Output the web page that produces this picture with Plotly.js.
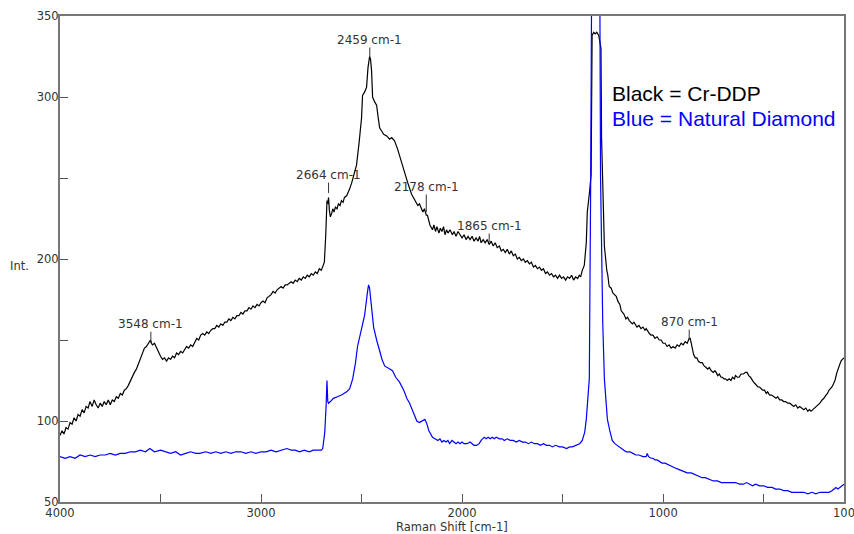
<!DOCTYPE html>
<html>
<head>
<meta charset="utf-8">
<script src="https://cdn.plot.ly/plotly-3.0.1.min.js"></script>
<style>html,body{margin:0;padding:0;background:#fff;}#chart{width:854px;height:534px;}</style>
</head>
<body>
<div id="chart"></div>
<script>
// Black = Cr-DDP : [Raman shift cm-1, intensity]
const blackSpectrum = [
[4000,91],[3990,94],[3980,92],[3970,96],[3960,95],[3950,99],[3940,98],[3930,102],[3920,100],[3910,104],[3900,103],[3890,107],[3880,105],[3870,109],[3860,108],[3851,112],[3840,109],[3830,113],[3820,110],[3810,108],[3800,111],[3790,109],[3780,112],[3770,110],[3760,113],[3750,110],[3740,113],[3730,112],[3720,115],[3710,114],[3700,117],[3690,116],[3680,119],[3670,120],[3660,122],[3650,125],[3640,127],[3630,130],[3620,132],[3610,135],[3600,138],[3590,142],[3580,145],[3570,146],[3560,148],[3550,150],[3545,148],[3540,147],[3530,148],[3520,145],[3510,142],[3500,140],[3490,138],[3480,139],[3470,137],[3460,139],[3450,138],[3440,140],[3430,139],[3420,142],[3410,141],[3400,143],[3390,142],[3380,144],[3370,146],[3360,145],[3350,147],[3340,146],[3330,149],[3320,151],[3310,150],[3300,153],[3290,154],[3280,153],[3270,155],[3260,154],[3250,156],[3240,157],[3230,157],[3220,159],[3210,158],[3200,160],[3190,159],[3180,161],[3170,161],[3160,163],[3150,162],[3140,164],[3130,163],[3120,165],[3110,165],[3100,167],[3090,166],[3080,168],[3070,168],[3060,170],[3050,169],[3040,171],[3030,170],[3020,172],[3010,171],[3000,173],[2990,174],[2980,173],[2970,176],[2960,177],[2950,178],[2940,180],[2930,179],[2920,181],[2910,182],[2900,183],[2890,182],[2880,184],[2870,184],[2860,185],[2850,186],[2840,185],[2830,187],[2820,186],[2810,188],[2800,187],[2790,189],[2780,188],[2770,190],[2760,189],[2750,191],[2740,190],[2730,192],[2720,191],[2710,194],[2700,193],[2690,196],[2685,198],
[2678,215],[2672,236],[2668,234],[2664,238],[2660,230],[2655,226],[2649,228],[2643,231],[2637,229],[2630,232],[2622,231],[2615,234],[2607,233],[2600,236],[2592,235],[2585,238],[2574,239],[2565,241],[2560,243],[2549,247],[2537,252],[2525,258],[2512,272],[2500,287],[2495,301],[2485,303],[2475,306],[2468,318],[2460,325],[2455,323],[2450,316],[2445,300],[2435,297],[2425,295],[2418,288],[2410,281],[2400,279],[2390,277],[2375,276],[2360,274],[2350,275],[2336,273],[2321,268],[2305,261],[2286,254],[2270,247],[2251,240],[2235,236],[2220,233],[2212,234],[2195,229],[2187,231],[2178,227],[2172,227],[2160,221],
[2147,218],[2140,221],[2132,217],[2125,220],[2115,216],[2108,219],[2100,217],[2092,220],[2085,215],[2077,218],[2070,216],[2060,218],[2048,215],[2040,217],[2030,214],[2020,217],[2010,215],[2000,213],[1990,215],[1980,212],[1970,214],[1960,212],[1950,214],[1940,211],[1930,213],[1920,211],[1913,214],[1905,210],[1895,212],[1885,210],[1875,212],[1865,209],[1855,211],[1845,208],[1835,210],[1825,207],[1814,208],[1805,205],[1795,206],[1785,204],[1775,206],[1765,203],[1755,205],[1745,202],[1735,203],[1725,200],[1715,201],[1705,199],[1695,200],[1685,198],[1675,199],[1665,197],[1655,198],[1645,195],[1635,196],[1625,194],[1615,195],[1605,193],[1595,194],[1585,191],[1575,192],[1565,190],[1555,191],[1545,189],[1535,190],[1525,188],[1515,190],[1505,188],[1495,189],[1485,187],[1475,189],[1465,188],[1455,190],[1445,187],[1435,189],[1425,188],[1417,190],[1410,189],
[1402,193],[1392,196],[1382,210],[1377,229],[1367,240],[1358,252],[1353,338],[1345,340],[1338,339],[1330,340],[1320,338],[1309,330],[1306,275],[1302,250],[1292,208],
[1280,193],[1275,190],[1268,183],[1258,182],[1250,179],[1242,178],[1233,177],[1225,174],[1215,172],[1208,168],[1203,167],[1195,166],[1185,163],[1177,164],[1168,162],[1160,161],[1153,160],[1145,161],[1137,159],[1130,158],[1120,159],[1110,157],[1100,158],[1090,156],[1084,157],[1075,155],[1068,154],[1060,153],[1050,153],[1040,151],[1030,152],[1019,150],[1010,150],[1000,148],[990,148],[980,146],[970,147],[960,145],[950,146],[940,145],[930,147],[920,146],[910,148],[900,147],[890,149],[880,148],[874,150],[870,151],[865,151],[860,148],[855,144],[848,141],[840,139],[832,139],[825,137],[815,136],[805,136],[796,134],[786,133],[778,132],[770,133],[760,131],[750,130],[742,131],[736,130],[728,128],[720,129],[712,127],[705,127],[697,126],[690,126],[680,125],[671,126],[662,125],[655,127],[645,126],[640,128],[630,127],[622,127],[612,129],[600,129],[590,130],[582,130],[574,128],[565,127],[557,125],[550,124],[542,123],[535,122],[528,121],[520,121],[512,120],[505,119],[495,119],[487,117],[480,118],[470,116],[460,116],[450,115],[438,114],[430,115],[420,113],[410,113],[400,112],[390,112],[380,111],[370,111],[358,110],[350,109],[340,110],[330,108],[320,109],[310,108],[300,107],[290,108],[280,106],[272,107],[264,106],[255,107],[245,108],[238,109],[230,110],[220,111],[209,113],[200,114],[190,116],[182,117],[175,119],[168,120],[160,121],[152,123],[145,125],[135,130],[125,134],[115,137],[108,138],[100,139]
];

// Blue = Natural Diamond : [Raman shift cm-1, intensity]
const blueSpectrum = [
[4000,78],[3975,77],[3950,78],[3925,77],[3900,79],[3875,78],[3850,79],[3825,78],[3800,79],[3775,79],[3750,80],[3725,79],[3700,80],[3675,80],[3650,81],[3625,81],[3600,82],[3575,81],[3553,83],[3530,81],[3500,82],[3475,81],[3450,80],[3425,81],[3400,79],[3375,80],[3350,81],[3325,80],[3304,80],[3275,81],[3250,80],[3225,81],[3200,80],[3175,81],[3150,80],[3125,81],[3100,81],[3075,80],[3050,81],[3025,80],[3000,81],[2975,81],[2950,82],[2925,81],[2900,82],[2872,83],[2850,82],[2830,82],[2808,81],[2785,82],[2760,81],[2740,82],[2720,82],[2700,82],[2693,83],
[2683,93],[2676,110],[2672,125],[2668,112],[2664,111],[2655,112],[2640,114],[2620,115],[2600,116],[2574,118],[2559,120],[2544,126],[2530,136],[2520,146],[2505,155],[2485,165],[2470,180],[2465,184],[2460,182],[2450,169],[2440,158],[2425,150],[2410,143],[2398,138],[2385,134],[2370,133],[2355,132],[2346,131],[2330,127],[2311,124],[2290,119],[2275,114],[2261,111],[2240,105],[2225,100],[2212,99],[2195,100],[2185,101],[2177,99],[2165,94],
[2147,90],[2135,89],[2120,88],[2110,89],[2100,87],[2090,88],[2080,87],[2070,88],[2062,86],[2050,88],[2040,87],[2030,86],[2020,87],[2010,86],[2000,87],[1990,86],[1975,86],[1960,87],[1950,86],[1940,85],[1928,85],[1915,86],[1905,88],[1899,89],[1890,90],[1880,89],[1870,90],[1860,89],[1850,90],[1840,89],[1830,90],[1814,89],[1800,89],[1790,88],[1775,89],[1760,88],[1745,88],[1730,87],[1715,88],[1700,87],[1685,87],[1670,86],[1655,87],[1640,86],[1625,86],[1610,85],[1595,86],[1580,85],[1565,85],[1550,84],[1535,85],[1516,84],[1500,84],[1480,83],[1465,84],[1451,84],[1430,85],[1415,86],[1402,88],
[1390,93],[1382,101],[1367,126],[1360,250],[1355,380],[1335,440],[1315,380],[1311,250],[1300,160],[1292,126],[1277,101],[1265,94],[1253,88],
[1240,86],[1230,85],[1218,84],[1205,83],[1195,82],[1183,81],[1165,81],[1150,80],[1135,79],[1120,79],[1100,78],[1084,78],[1079,80],[1072,78],[1060,77],[1050,77],[1040,76],[1030,76],[1019,75],[1005,74],[990,74],[975,73],[960,72],[940,71],[920,70],[900,69],[880,68],[860,68],[840,67],[823,66],[806,65],[790,65],[770,64],[750,63],[730,63],[710,62],[686,62],[665,62],[640,62],[620,61],[600,61],[585,62],[572,61],[555,60],[540,61],[520,60],[500,60],[480,59],[458,59],[440,58],[420,58],[400,57],[380,57],[360,56],[340,56],[320,56],[300,56],[280,55],[260,56],[240,55],[220,56],[200,56],[190,56],[175,56],[160,57],[150,58],[140,59],[130,58],[120,59],[110,60],[100,61]
];

// Peak labels
const peakLabels = ['3548 cm-1','2664 cm-1','2459 cm-1','2178 cm-1','1865 cm-1','870 cm-1'];
const peakShift = [3548,2664,2459,2178,1865,870];
const peakInt = [148,240.7,324.7,229,210.5,150];

// Axis ticks
const xTickVals = [4000,3500,3000,2500,2000,1500,1000,500,100];
const xTickText = ['4000','','3000','','2000','','1000','','100'];
const yTickVals = [50,100,150,200,250,300,350];
const yTickText = ['50','100','','200','','300','350'];

const legendLines = ['Black = Cr-DDP','Blue = Natural Diamond'];
const legendColors = ['#000000','#0000ff'];

const traces = [
  {x: blackSpectrum.map(p=>p[0]), y: blackSpectrum.map(p=>p[1]), type:'scatter', mode:'lines', line:{color:'#000000', width:1.2}, name:'Cr-DDP'},
  {x: blueSpectrum.map(p=>p[0]), y: blueSpectrum.map(p=>p[1]), type:'scatter', mode:'lines', line:{color:'#0000ff', width:1.2}, name:'Natural Diamond'}
];

const labelOffsets = [-19,-18,-17,-25,-16,-18];
const annotations = peakLabels.map((t,i)=>({
  x: peakShift[i], y: peakInt[i], xref:'x', yref:'y', text:t,
  showarrow:true, arrowhead:0, arrowwidth:1, arrowcolor:'#333333', ax:0, ay:labelOffsets[i],
  standoff:0, borderpad:0,
  font:{family:'DejaVu Sans, sans-serif', size:12, color:'#333333'}
}));
const legendY = [0.841, 0.789];
legendLines.forEach((t,i)=>annotations.push({
  x:0.7015, y:legendY[i], xref:'paper', yref:'paper', xanchor:'left', yanchor:'middle',
  text:t, showarrow:false, font:{family:'Liberation Sans, Arial, sans-serif', size:21, color:legendColors[i]}
}));
annotations.push({x:-0.052, y:0.485, xref:'paper', yref:'paper', xanchor:'center', yanchor:'middle', text:'Int.', showarrow:false, font:{family:'DejaVu Sans, sans-serif', size:11.5, color:'#333333'}});
annotations.push({x:0.5, y:-0.0515, xref:'paper', yref:'paper', xanchor:'center', yanchor:'middle', text:'Raman Shift [cm-1]', showarrow:false, font:{family:'DejaVu Sans, sans-serif', size:11.5, color:'#333333'}});

const layout = {
  width:854, height:534,
  margin:{l:60, r:10, t:16, b:32, pad:0},
  paper_bgcolor:'#ffffff', plot_bgcolor:'#ffffff',
  showlegend:false,
  font:{family:'DejaVu Sans, sans-serif', size:11.5, color:'#333333'},
  xaxis:{range:[4000,100], autorange:false, showgrid:false, zeroline:false,
    tickmode:'array', tickvals:xTickVals, ticktext:xTickText,
    ticks:'inside', ticklen:8, tickwidth:1, tickcolor:'#555555',
    showline:true, linecolor:'#777777', linewidth:2, mirror:true,
    ticklabeloverflow:'allow', ticklabelstandoff:-1,
    tickfont:{family:'DejaVu Sans, sans-serif', size:11.5, color:'#333333'}},
  yaxis:{range:[50,350], autorange:false, showgrid:false, zeroline:false,
    tickmode:'array', tickvals:yTickVals, ticktext:yTickText,
    ticks:'inside', ticklen:8, tickwidth:1, tickcolor:'#555555',
    showline:true, linecolor:'#777777', linewidth:2, mirror:true,
    ticklabelstandoff:-3, ticklabeloverflow:'allow',
    tickfont:{family:'DejaVu Sans, sans-serif', size:11.5, color:'#333333'}},
  annotations: annotations
};
Plotly.newPlot('chart', traces, layout, {displayModeBar:false, staticPlot:true});
</script>
</body>
</html>
